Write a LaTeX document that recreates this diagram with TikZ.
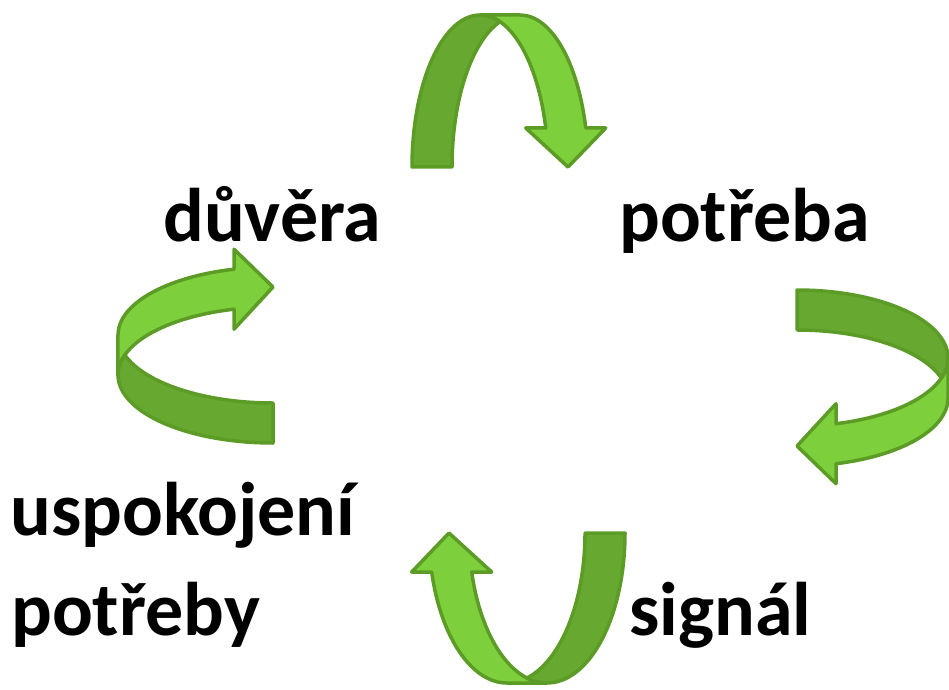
\documentclass[tikz,border=0pt]{standalone}
\usepackage{fontspec}
\setmainfont{Carlito}
\usepackage{tikz}
\usetikzlibrary{positioning}
\definecolor{bandlight}{RGB}{125,208,60}
\definecolor{banddark}{RGB}{102,168,48}
\definecolor{bandline}{RGB}{92,156,38}
\tikzset{
  word/.style={font=\fontsize{76}{90}\selectfont\bfseries, inner sep=0pt, anchor=base west},
  band/.style={draw=bandline, line width=3.5pt, line join=round}
}
% one bent ribbon arrow: #1 = half width of the bend, #2 = height
\newcommand{\bentarrow}[2]{%
  \pgfmathsetmacro{\rx}{#1}
  \pgfmathsetmacro{\ry}{#2}
  \pgfmathsetmacro{\sa}{asin(\headh/\ry)}
  \pgfmathsetmacro{\ca}{acos(\bandw/(2*\rx))}
  \pgfmathsetmacro{\xa}{\rx*(1+cos(\sa))}
  \pgfmathsetmacro{\tipx}{2*\rx+\bandw/2}
  \pgfmathsetmacro{\hd}{(\headw-\bandw)/2}
  \filldraw[band, fill=bandlight] (\xa,\headh)
    arc[start angle=\sa, end angle=90, x radius=\rx pt, y radius=\ry pt]
    -- ++(\bandw,0) arc[start angle=90, end angle=\sa, x radius=\rx pt, y radius=\ry pt]
    -- ++(\hd,0) -- (\tipx,0) -- ({\xa-\hd},\headh) -- cycle;
  \filldraw[band, fill=banddark] (0,0)
    arc[start angle=180, end angle=\ca, x radius=\rx pt, y radius=\ry pt]
    arc[start angle={180-\ca}, end angle=180, x radius=\rx pt, y radius=\ry pt] -- cycle;
}
\begin{document}
\begin{tikzpicture}[x=1pt, y=1pt]
  \useasboundingbox (0,0) rectangle (949,689);
  \def\bandw{40}
  \def\headh{39}
  \def\headw{80}
  \foreach \px/\py/\rot/\rad/\hgt in {412/522/0/68/152, 797/399/-90/68/151,
                                     625/156/180/78/150, 273/246/90/68/155}{
    \begin{scope}[shift={(\px,\py)}, rotate=\rot]
      \bentarrow{\rad}{\hgt}
    \end{scope}
  }
  \node[word] (duvera) at (163,447) {důvěra};
  \node[word] (potreba) at (619,447) {potřeba};
  \node[word] (uspokojeni) at (10,154) {uspokojení};
  \node[word] (potreby) at (11,54) {potřeby};
  \node[word] (signal) at (629,54) {signál};
\end{tikzpicture}
\end{document}
